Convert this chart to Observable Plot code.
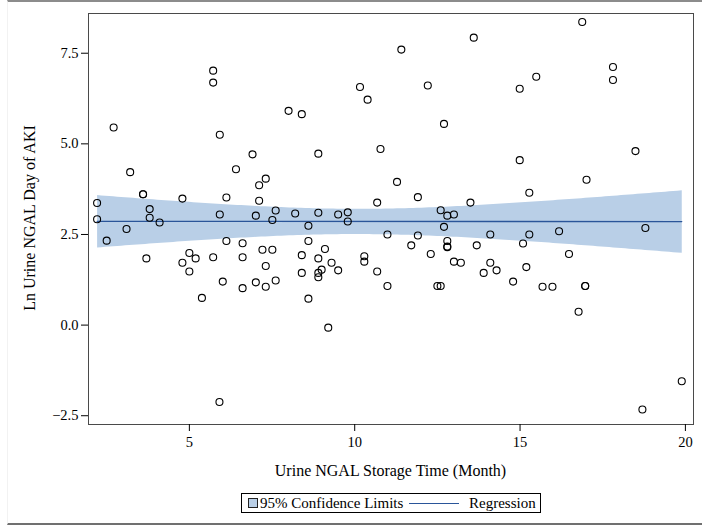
<!DOCTYPE html>
<html>
<head>
<meta charset="utf-8">
<script src="https://cdn.jsdelivr.net/npm/d3@7"></script>
<script src="https://cdn.jsdelivr.net/npm/@observablehq/plot@0.6"></script>
<style>
  html, body { margin: 0; padding: 0; background: #fff; }
  body { width: 702px; height: 525px; position: relative; overflow: hidden;
         font-family: "Liberation Serif", "Times New Roman", serif; }
  #border { position: absolute; left: 7px; top: 0; width: 720px; height: 521px;
            border-top: 2px solid #8c8c8c; border-bottom: 2px solid #707070;
            border-left: 1px solid #f2f2f2; }
  #chart { position: absolute; left: 0; top: 0; }
  #chart svg, #chart svg text { font-family: "Liberation Serif", "Times New Roman", serif !important; }
  #titles { position: absolute; left: 0; top: 0; pointer-events: none; }
  #titles text { font-family: "Liberation Serif", "Times New Roman", serif; font-size: 16px; fill: #000; }
  #legend { position: absolute; left: 241px; top: 493px; width: 298px; height: 18px;
            border: 1px solid #000; background: #fff;
            font-family: "Liberation Serif", "Times New Roman", serif; font-size: 15px; color: #000; }
  #legend .sw { position: absolute; left: 6px; top: 4px; width: 8px; height: 8px;
                border: 1px solid #222; background: #b9cfe7; }
  #legend .t1 { position: absolute; left: 18px; top: 0; line-height: 18px; white-space: nowrap; }
  #legend .ln { position: absolute; left: 167px; top: 9px; width: 50px; height: 0;
                border-top: 1.4px solid #2a5599; }
  #legend .t2 { position: absolute; left: 227px; top: 0; line-height: 18px; white-space: nowrap; }
</style>
</head>
<body>
<div id="border"></div>
<div id="chart"></div>
<svg id="titles" width="702" height="525"></svg>
<div id="legend">
  <div class="sw"></div><div class="t1">95% Confidence Limits</div>
  <div class="ln"></div><div class="t2">Regression</div>
</div>
<script>
// Storage time (months) and log urine NGAL on the day of AKI, one entry per patient
const storageMonths = [
  2.21, 2.21, 2.50, 2.71, 3.10, 3.21, 3.60, 3.60, 3.70, 3.80,
  3.80, 4.10, 4.79, 4.79, 5.00, 5.00, 5.19, 5.38, 5.72, 5.72,
  5.72, 5.92, 5.92, 5.91, 6.01, 6.12, 6.12, 6.41, 6.61, 6.61,
  6.61, 6.91, 7.01, 7.01, 7.11, 7.11, 7.21, 7.31, 7.31, 7.31,
  7.51, 7.51, 7.61, 7.61, 8.00, 8.20, 8.40, 8.40, 8.40, 8.60,
  8.60, 8.60, 8.90, 8.90, 8.90, 8.90, 8.90, 9.00, 9.10, 9.20,
  9.30, 9.50, 9.50, 9.79, 9.79, 10.16, 10.29, 10.29, 10.39, 10.68,
  10.68, 10.78, 10.99, 10.99, 11.28, 11.41, 11.71, 11.91, 11.91, 12.21,
  12.30, 12.50, 12.60, 12.60, 12.70, 12.70, 12.80, 12.80, 12.80, 12.80,
  13.00, 13.00, 13.21, 13.50, 13.60, 13.69, 13.90, 14.10, 14.10, 14.29,
  14.79, 14.99, 14.99, 15.09, 15.19, 15.28, 15.28, 15.49, 15.68, 15.98,
  16.18, 16.48, 16.77, 16.88, 16.97, 16.97, 17.01, 17.81, 17.81, 18.49,
  18.70, 18.79, 19.89
];
const lnNgal = [
  3.37, 2.92, 2.33, 5.45, 2.65, 4.22, 3.61, 3.61, 1.84, 3.20,
  2.96, 2.83, 3.49, 1.72, 1.99, 1.48, 1.84, 0.75, 7.02, 6.69,
  1.87, 5.25, 3.05, -2.12, 1.20, 3.52, 2.32, 4.30, 2.26, 1.87,
  1.02, 4.71, 3.02, 1.18, 3.86, 3.43, 2.08, 4.04, 1.63, 1.06,
  2.90, 2.08, 3.16, 1.23, 5.91, 3.08, 5.82, 1.93, 1.44, 2.74,
  2.32, 0.73, 4.73, 3.10, 1.84, 1.44, 1.32, 1.53, 2.10, -0.07,
  1.72, 3.05, 1.51, 3.11, 2.86, 6.57, 1.90, 1.75, 6.22, 3.38,
  1.48, 4.86, 2.50, 1.08, 3.95, 7.60, 2.20, 3.53, 2.47, 6.61,
  1.96, 1.08, 1.08, 3.17, 5.55, 2.71, 3.02, 2.32, 2.17, 2.15,
  3.05, 1.75, 1.72, 3.38, 7.93, 2.20, 1.44, 2.50, 1.72, 1.51,
  1.20, 6.52, 4.55, 2.25, 1.60, 3.65, 2.50, 6.85, 1.06, 1.06,
  2.59, 1.96, 0.37, 8.36, 1.08, 1.08, 4.01, 7.12, 6.76, 4.80,
  -2.33, 2.68, -1.55
];

const xTicks = [5, 10, 15, 20];
const yTicks = [-2.5, 0, 2.5, 5, 7.5];
const xDomain = [1.95, 20.245];
const yDomain = [-2.742, 8.596];

const xTitle = "Urine NGAL Storage Time (Month)";
const yTitle = "Ln Urine NGAL Day of AKI";

const bandColor = "#b9cfe7";
const fitColor = "#2a5599";
const serif = '"Liberation Serif", "Times New Roman", serif';

const patients = storageMonths.map((m, i) => ({month: m, ngal: lnNgal[i]}));

const chart = Plot.plot({
  width: 702,
  height: 482,
  marginLeft: 88,
  marginTop: 13,
  marginRight: 9,
  marginBottom: 58,
  style: {fontFamily: serif, fontSize: "14.5px", color: "#000", background: "transparent"},
  x: {domain: xDomain, label: null},
  y: {domain: yDomain, label: null},
  marks: [
    // fitted line with its 95% confidence band for the mean
    Plot.linearRegressionY(patients, {
      x: "month", y: "ngal", ci: 0.95,
      fill: bandColor, fillOpacity: 1, stroke: fitColor, strokeWidth: 1.3
    }),
    Plot.dot(patients, {x: "month", y: "ngal", r: 3.5, stroke: "#000", strokeWidth: 1.1, fill: "none"}),
    Plot.frame({stroke: "#4a4a4a"}),
    Plot.axisX({ticks: xTicks, tickSize: 7, tickPadding: 5, stroke: "#000", fontSize: 14.5}),
    Plot.axisY({ticks: yTicks, tickSize: 7, tickPadding: 3, tickFormat: d3.format(".1f"), stroke: "#000", fontSize: 14.5})
  ]
});
document.getElementById("chart").appendChild(chart);

// axis titles
const titles = d3.select("#titles");
titles.append("text")
  .attr("x", 390.5).attr("y", 476)
  .attr("text-anchor", "middle")
  .text(xTitle);
titles.append("text")
  .attr("transform", "translate(35,218) rotate(-90)")
  .attr("text-anchor", "middle")
  .text(yTitle);
</script>
</body>
</html>
